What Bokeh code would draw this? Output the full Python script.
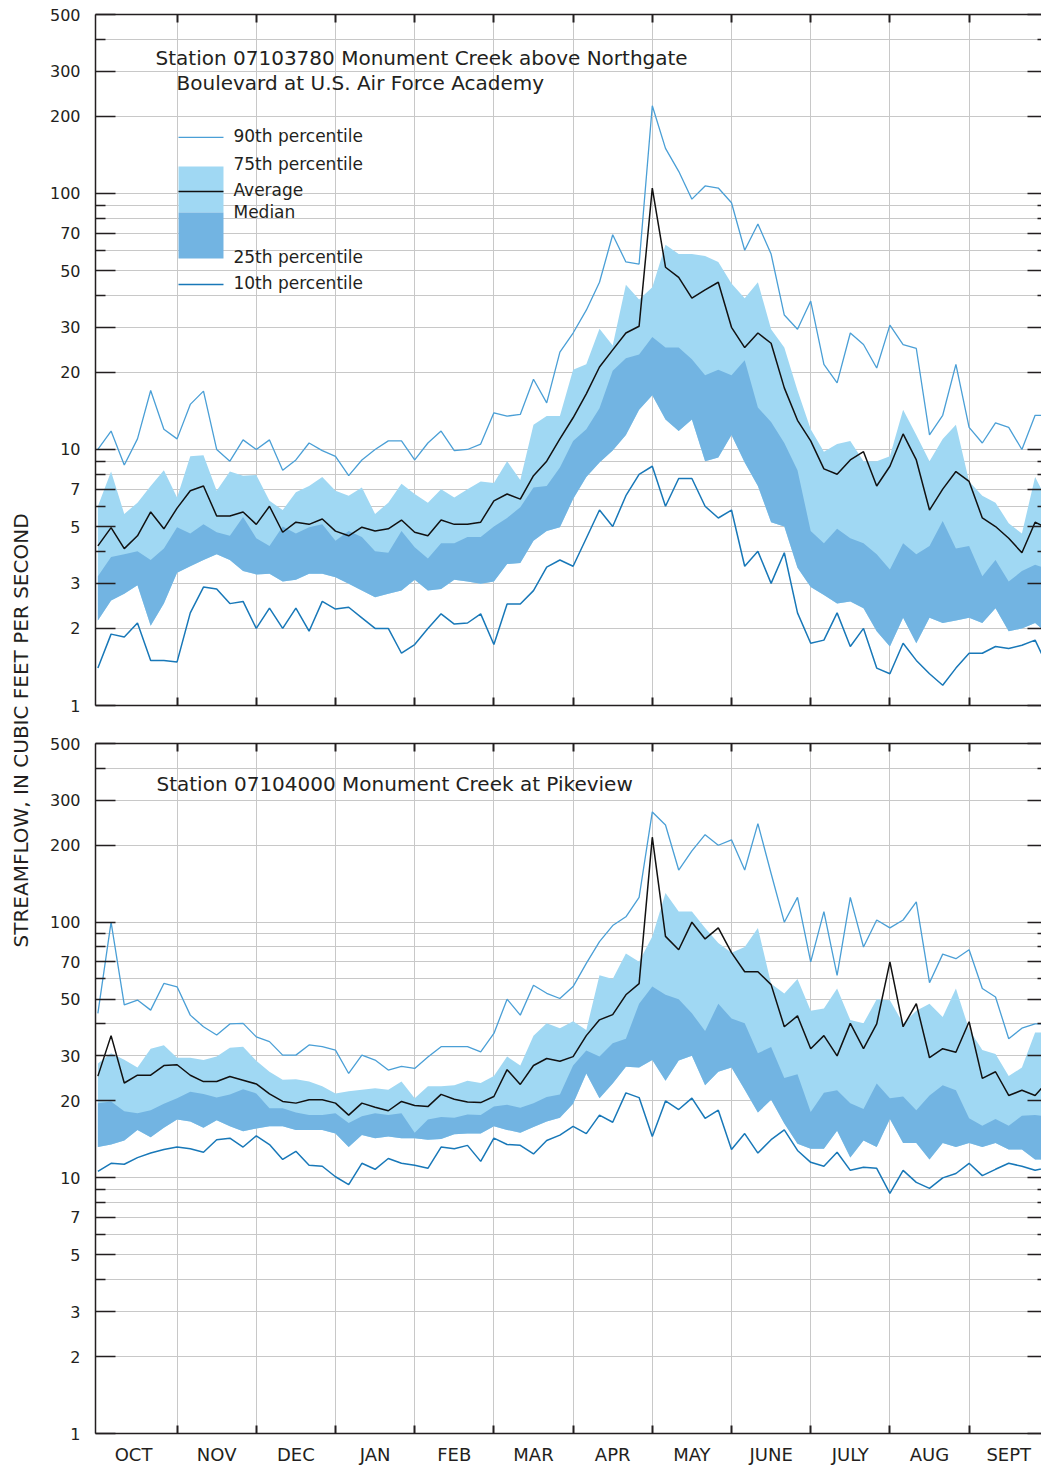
import numpy as np
from bokeh.plotting import figure
from bokeh.layouts import row, column
from bokeh.models import (FixedTicker, LinearAxis, LogAxis, NumeralTickFormatter,
                          CustomJSTickFormatter, Label, Range1d)
from bokeh.embed import file_html
from bokeh.resources import INLINE

# Daily-flow statistics through the water year (Oct 1 -> Sep 30),
# sampled six times per month (73 values, Oct 1 .. Sep 30).
month_labels = ["OCT", "NOV", "DEC", "JAN", "FEB", "MAR", "APR", "MAY", "JUNE", "JULY", "AUG", "SEPT"]
major_flow_ticks = [1, 2, 3, 5, 7, 10, 20, 30, 50, 70, 100, 200, 300, 500]
minor_flow_ticks = [4, 6, 8, 9, 40, 60, 80, 90, 400]

# ---- Station 07103780 Monument Creek above Northgate Boulevard at U.S. Air Force Academy
ng_p90 = [10, 11.8, 8.7, 11, 17, 12, 11, 15, 16.9, 10, 9.0, 10.9,
          10, 10.9, 8.3, 9.1, 10.6, 9.9, 9.4, 7.9, 9.1, 10, 10.8, 10.8,
          9.1, 10.6, 11.8, 9.9, 10, 10.5, 13.9, 13.5, 13.7, 18.8, 15.2, 24,
          28.5, 35, 45, 69, 54, 53, 220, 150, 122, 95, 107, 105,
          92, 60, 76, 58, 33.5, 29.5, 38, 21.5, 18.2, 28.5, 25.7, 20.8,
          30.6, 25.7, 24.8, 11.4, 13.6, 21.5, 12.2, 10.6, 12.7, 12.2, 10, 13.6, 13.6]
ng_p75 = [6.0, 8.2, 5.6, 6.2, 7.2, 8.3, 6.5, 9.4, 9.5, 6.9, 8.2, 7.9,
          7.95, 6.3, 5.8, 6.8, 7.2, 7.8, 6.9, 6.6, 7.1, 5.6, 6.2, 7.35,
          6.7, 6.2, 7.0, 6.5, 7.0, 7.5, 7.4, 9.0, 7.6, 12.5, 13.5, 13.5,
          20.5, 21.5, 29.6, 25.5, 44, 38.5, 43, 63, 58, 58, 57, 54,
          44.5, 39, 45, 29.5, 25, 17, 12, 9.8, 10.5, 10.8, 9.0, 9.0,
          9.4, 14.3, 11.4, 9.0, 11.0, 12.5, 7.5, 6.6, 6.2, 5.15, 4.7, 7.8, 6.2]
ng_median = [3.2, 3.8, 3.9, 4.0, 3.7, 4.1, 4.97, 4.7, 5.1, 4.75, 4.6, 5.45,
             4.5, 4.2, 5.0, 4.7, 4.97, 5.1, 4.4, 4.8, 4.55, 4.0, 3.95, 4.8,
             4.15, 3.75, 4.3, 4.3, 4.55, 4.55, 5.0, 5.4, 5.95, 7.1, 7.2, 8.5,
             10.8, 12.0, 14.5, 20.3, 22.7, 23.5, 27.5, 25, 25, 22.5, 19.5, 20.5,
             19.5, 22.3, 14.6, 12.8, 10.6, 8.3, 4.8, 4.3, 4.9, 4.5, 4.3, 3.9,
             3.4, 4.3, 3.9, 4.2, 5.25, 4.1, 4.2, 3.2, 3.7, 3.05, 3.35, 3.55, 3.4]
ng_p25 = [2.15, 2.57, 2.73, 2.95, 2.05, 2.5, 3.3, 3.5, 3.7, 3.9, 3.7, 3.35,
          3.25, 3.27, 3.05, 3.1, 3.27, 3.27, 3.17, 2.99, 2.81, 2.65, 2.73, 2.81,
          3.1, 2.81, 2.85, 3.1, 3.05, 2.99, 3.05, 3.57, 3.6, 4.4, 4.8, 4.97,
          6.4, 7.8, 8.9, 9.9, 11.4, 14.3, 16.3, 13.1, 11.8, 13.1, 9.0, 9.3,
          11.4, 8.9, 7.2, 5.2, 5.0, 3.45, 2.9, 2.7, 2.5, 2.55, 2.4, 1.95,
          1.7, 2.2, 1.75, 2.2, 2.1, 2.15, 2.2, 2.1, 2.4, 1.95, 2.0, 2.1, 1.9]
ng_p10 = [1.4, 1.9, 1.85, 2.1, 1.5, 1.5, 1.48, 2.3, 2.9, 2.85, 2.5, 2.55,
          2.0, 2.4, 2.0, 2.4, 1.95, 2.55, 2.38, 2.42, 2.2, 2.0, 2.0, 1.6,
          1.73, 2.0, 2.28, 2.08, 2.1, 2.28, 1.73, 2.49, 2.49, 2.81, 3.47, 3.7,
          3.5, 4.5, 5.8, 5.0, 6.6, 8.0, 8.6, 6.0, 7.7, 7.7, 6.0, 5.4,
          5.8, 3.5, 4.0, 3.0, 3.95, 2.3, 1.75, 1.8, 2.3, 1.7, 2.0, 1.4,
          1.33, 1.75, 1.5, 1.33, 1.2, 1.4, 1.6, 1.6, 1.7, 1.67, 1.72, 1.8, 1.4]
ng_mean = [4.2, 4.95, 4.1, 4.6, 5.7, 4.9, 5.9, 6.9, 7.2, 5.5, 5.5, 5.7,
           5.1, 6.0, 4.75, 5.2, 5.1, 5.35, 4.8, 4.6, 4.97, 4.8, 4.9, 5.3,
           4.75, 4.6, 5.3, 5.1, 5.1, 5.2, 6.3, 6.7, 6.4, 7.9, 9.0, 11.0,
           13.3, 16.5, 21, 24.5, 28.5, 30.3, 105, 51.5, 47, 39, 42, 45,
           30, 25, 28.5, 26, 17.4, 13, 10.8, 8.4, 8.0, 9.1, 9.8, 7.2,
           8.6, 11.5, 9.1, 5.8, 7.0, 8.2, 7.5, 5.4, 5.0, 4.5, 3.95, 5.2, 4.9]

# ---- Station 07104000 Monument Creek at Pikeview
pv_p90 = [44, 100, 47.5, 49.6, 45.3, 57.6, 55.9, 43.3, 39, 36.2, 40, 40.2,
          35.6, 34.1, 30.2, 30.2, 33.1, 32.6, 31.6, 25.6, 30.2, 28.9, 26.4, 27.3,
          26.8, 29.7, 32.6, 32.6, 32.6, 31.1, 36.7, 50, 43.3, 56.7, 52.7, 50.3,
          56, 69, 84, 97, 105, 125, 270, 240, 160, 190, 220, 200,
          210, 160, 243, 155, 100, 125, 70, 110, 62, 125, 80, 102,
          95, 102, 120, 58, 75, 72, 78, 55, 51, 35, 38.5, 40, 40]
pv_p75 = [28, 30.7, 29, 27, 32, 33, 29.5, 29.5, 28.9, 29.8, 32.3, 32.6,
          28.7, 26, 24.2, 24.3, 23.8, 22.8, 21.4, 21.8, 22.1, 22.4, 22.1, 23.8,
          20.5, 22.8, 22.8, 23, 24, 23.5, 25, 29.8, 27.5, 36, 40.2, 38.5,
          41, 37.9, 62, 60, 75.5, 70, 88, 130, 110, 110, 95, 83,
          76, 80, 95, 57.5, 52.6, 60, 45, 46, 55, 41.4, 40.2, 50,
          49.5, 40.2, 45, 48, 42.6, 55, 38, 31.6, 30.5, 25, 27, 37, 37]
pv_median = [19.6, 19.9, 18.2, 17.9, 18.4, 19.5, 20.5, 21.7, 21.3, 20.6, 21.2, 22.2,
             21.4, 18.7, 18.7, 18.0, 17.6, 17.6, 17.9, 16.4, 17.4, 17.9, 17.6, 17.9,
             15.0, 16.9, 17.3, 17.2, 17.7, 17.6, 19.0, 19.3, 18.8, 19.6, 20.7, 21.2,
             27.5, 31.5, 29.8, 33.6, 35, 48, 56, 52, 50, 44, 37.5, 48,
             42, 40.2, 30.7, 32.5, 24.6, 25.4, 18.1, 21.5, 22, 19.6, 18.6, 23.4,
             20.5, 20.8, 18.4, 21, 23, 22, 17.1, 16, 17, 16, 17.5, 17.6, 17.4]
pv_p25 = [13.2, 13.5, 14.0, 15.4, 14.4, 15.7, 16.9, 16.6, 15.7, 16.8, 15.9, 15.2,
          15.6, 15.9, 15.9, 15.4, 15.4, 15.4, 14.9, 13.2, 14.7, 14.3, 14.5, 14.3,
          14.3, 14.1, 14.2, 14.8, 14.9, 14.9, 15.9, 15.4, 15.0, 15.8, 16.6, 17.2,
          19.5, 25.6, 20.5, 23.4, 27.2, 27, 28.9, 24, 28.8, 30, 23, 26,
          27, 22.1, 18, 20.2, 16.3, 13.6, 13, 13, 15.3, 12, 14, 13.2,
          17, 13.7, 13.7, 11.8, 13.7, 13.2, 13.7, 13.2, 13.7, 12.9, 12.9, 11.8, 11.8]
pv_p10 = [10.6, 11.4, 11.3, 12.0, 12.5, 12.9, 13.2, 13.0, 12.6, 14.1, 14.3, 13.2,
          14.6, 13.5, 11.8, 12.7, 11.2, 11.1, 10.1, 9.4, 11.4, 10.8, 11.9, 11.4,
          11.2, 10.9, 13.2, 13.0, 13.4, 11.6, 14.3, 13.5, 13.4, 12.4, 14.0, 14.7,
          15.9, 14.9, 17.6, 16.5, 21.5, 20.6, 14.5, 20, 18.5, 20.5, 17.1, 18.4,
          12.9, 14.9, 12.5, 14.1, 15.4, 12.8, 11.5, 11.1, 12.6, 10.7, 11.0, 10.9,
          8.7, 10.7, 9.6, 9.1, 10, 10.4, 11.4, 10.2, 10.8, 11.4, 11.1, 10.7, 11]
pv_mean = [25, 36, 23.5, 25.2, 25.2, 27.5, 27.7, 25.2, 23.8, 23.8, 24.9, 24.1,
           23.3, 21.3, 19.9, 19.6, 20.2, 20.2, 19.6, 17.6, 19.6, 18.9, 18.3, 19.9,
           19.2, 19.0, 21.2, 20.3, 19.8, 19.7, 20.8, 26.5, 23.2, 27.5, 29.3, 28.6,
           29.8, 36, 41.5, 43.5, 52, 57.5, 215, 88, 78, 100, 86, 95,
           76, 64, 64, 57, 39, 43, 32, 36, 30, 40.2, 32, 40,
           70, 39, 48, 29.5, 32, 31, 40.8, 24.5, 26, 21, 22, 21, 24]

# position of each sample, in months from Oct 1
month_pos = np.arange(len(ng_mean)) / 6.0

INK = "#231f20"
GRID = "#c8c8c8"
LIGHT = "#a0d8f3"
DARK = "#72b4e2"
P90_COLOR = "#4a9fd6"
P10_COLOR = "#1878b8"
FONT = "DejaVu Sans"
blank = CustomJSTickFormatter(code="return ''")


def flow_panel(height, top_pad, bottom_pad, stats, title_lines, month_names):
    p90, p75, med, p25, p10, mean = stats
    p = figure(width=1001, height=height, y_axis_type="log",
               x_range=Range1d(-0.03, 11.914), y_range=Range1d(1, 500),
               output_backend="svg", toolbar_location=None, title=None,
               min_border_left=55, min_border_right=0,
               min_border_top=top_pad, min_border_bottom=bottom_pad,
               outline_line_color=None, background_fill_color="white")

    month_ticker = FixedTicker(ticks=[0.45] + [m + 0.5 for m in range(1, 12)],
                               minor_ticks=list(range(1, 12)))
    flow_ticker = FixedTicker(ticks=major_flow_ticks, minor_ticks=minor_flow_ticks)

    # left flow axis
    ax = p.yaxis[0]
    ax.ticker = flow_ticker
    ax.formatter = NumeralTickFormatter(format="0")
    ax.major_tick_in = 20
    ax.major_tick_out = 0
    ax.minor_tick_in = 10
    ax.minor_tick_out = 0
    ax.major_tick_line_color = INK
    ax.minor_tick_line_color = INK
    ax.major_tick_line_width = 1.5
    ax.minor_tick_line_width = 1.5
    ax.axis_line_color = INK
    ax.axis_line_width = 1.5
    ax.major_label_standoff = 15
    ax.major_label_text_font = FONT
    ax.major_label_text_font_size = "16px"
    ax.major_label_text_color = INK

    # right-hand inner ticks (no labels)
    rax = LogAxis(ticker=flow_ticker, formatter=blank, major_tick_in=14, major_tick_out=0,
                  minor_tick_in=4, minor_tick_out=0,
                  major_tick_line_color=INK, minor_tick_line_color=INK,
                  major_tick_line_width=1.5, minor_tick_line_width=1.5,
                  axis_line_color=None, major_label_text_font_size="1px",
                  major_label_standoff=0)
    p.add_layout(rax, "right")

    # month axes, bottom and top
    bx = p.xaxis[0]
    bx.ticker = month_ticker
    tx = LinearAxis(ticker=month_ticker, formatter=blank)
    p.add_layout(tx, "above")
    for a in (bx, tx):
        a.major_tick_in = 0
        a.major_tick_out = 0
        a.minor_tick_in = 8
        a.minor_tick_out = 0
        a.minor_tick_line_color = INK
        a.minor_tick_line_width = 2
        a.axis_line_color = INK
        a.axis_line_width = 1.5
    tx.major_label_text_font_size = "1px"
    tx.major_label_standoff = 0
    if month_names:
        bx.major_label_overrides = {t: name for t, name in zip(month_ticker.ticks, month_names)}
        bx.major_label_text_font = FONT
        bx.major_label_text_font_size = "18px"
        bx.major_label_text_color = INK
        bx.major_label_standoff = 10
    else:
        bx.formatter = blank
        bx.major_label_text_font_size = "1px"
        bx.major_label_standoff = 0

    p.xgrid.grid_line_color = None
    p.xgrid.minor_grid_line_color = GRID
    p.ygrid.grid_line_color = GRID
    p.ygrid.minor_grid_line_color = GRID

    p.varea(x=month_pos, y1=p25, y2=p75, fill_color=LIGHT)
    p.varea(x=month_pos, y1=p25, y2=med, fill_color=DARK)
    p.line(month_pos, p90, line_color=P90_COLOR, line_width=1.3)
    p.line(month_pos, p10, line_color=P10_COLOR, line_width=1.5)
    p.line(month_pos, mean, line_color="#111111", line_width=1.5)

    for x, y, txt in title_lines:
        p.add_layout(Label(x=x, y=y, text=txt, text_font=FONT, text_font_size="20px",
                           text_color=INK, text_baseline="middle", text_align="left"))
    return p


top = flow_panel(724, 14, 19,
                 (ng_p90, ng_p75, ng_median, ng_p25, ng_p10, ng_mean),
                 [(0.728, 338, "Station 07103780 Monument Creek above Northgate"),
                  (0.993, 270, "Boulevard at U.S. Air Force Academy")],
                 None)

# legend key, drawn inside the upper panel
kx0, kx1, ktx = 1.018, 1.586, 1.712
top.quad(left=kx0, right=kx1, bottom=84.3, top=127.4, fill_color=LIGHT, line_color=None)
top.quad(left=kx0, right=kx1, bottom=55.7, top=84.3, fill_color=DARK, line_color=None)
top.segment(x0=kx0, x1=kx1, y0=165.5, y1=165.5, line_color=P90_COLOR, line_width=1.3)
top.segment(x0=kx0, x1=kx1, y0=101.8, y1=101.8, line_color="#111111", line_width=1.5)
top.segment(x0=kx0, x1=kx1, y0=44.1, y1=44.1, line_color=P10_COLOR, line_width=1.5)
for y, txt in [(167, "90th percentile"), (130, "75th percentile"), (103.5, "Average"),
               (84.5, "Median"), (56.5, "25th percentile"), (44.5, "10th percentile")]:
    top.add_layout(Label(x=ktx, y=y, text=txt, text_font=FONT, text_font_size="17px",
                         text_color=INK, text_baseline="middle", text_align="left"))

bottom = flow_panel(743, 19, 33,
                    (pv_p90, pv_p75, pv_median, pv_p25, pv_p10, pv_mean),
                    [(0.740, 346, "Station 07104000 Monument Creek at Pikeview")],
                    month_labels)

# shared vertical axis title
side = figure(width=40, height=1467, x_range=(0, 1), y_range=(0, 1),
              output_backend="svg", toolbar_location=None, title=None,
              x_axis_location=None, y_axis_location=None, min_border=0,
              outline_line_color=None)
side.grid.visible = False
side.add_layout(Label(x=0.5, y=0.5024, text="STREAMFLOW, IN CUBIC FEET PER SECOND",
                      angle=np.pi / 2, text_align="center", text_baseline="middle",
                      text_font=FONT, text_font_size="20px", text_color=INK))

layout = row(side, column(top, bottom, spacing=0), spacing=0)
open("out.html", "w").write(file_html(layout, INLINE))
